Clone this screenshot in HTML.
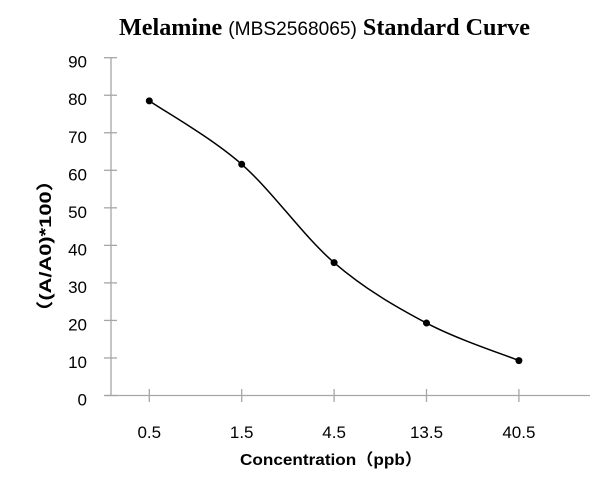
<!DOCTYPE html>
<html><head><meta charset="utf-8"><style>
html,body{margin:0;padding:0;background:#fff;}
svg{display:block;}
</style></head><body>
<svg id="chart" width="600" height="487" xmlns="http://www.w3.org/2000/svg">
<text x="324.5" y="35" text-anchor="middle" font-size="24" textLength="411" lengthAdjust="spacingAndGlyphs"><tspan font-family="Liberation Serif, serif" font-weight="bold">Melamine </tspan><tspan font-family="Liberation Sans, sans-serif" font-size="19">(MBS2568065)</tspan><tspan font-family="Liberation Serif, serif" font-weight="bold"> Standard Curve</tspan></text>
<text transform="translate(51,246) rotate(-90)" text-anchor="middle" font-family="Liberation Sans, 'Noto Sans CJK SC', sans-serif" font-weight="bold" font-size="17" textLength="153" lengthAdjust="spacingAndGlyphs">（(A/A0)*100）</text>
<text x="331" y="465" text-anchor="middle" font-family="Liberation Sans, 'Noto Sans CJK SC', sans-serif" font-weight="bold" font-size="16" textLength="182" lengthAdjust="spacingAndGlyphs">Concentration（ppb）</text>
<g id="axes"></g>
<g id="marks"></g>
</svg>
<script>
const categories = ["0.5","1.5","4.5","13.5","40.5"];
const values = [78.5, 61.6, 35.4, 19.3, 9.3];
const yTicks = [0,10,20,30,40,50,60,70,80,90];
const NS="http://www.w3.org/2000/svg";
const x0=111, x1=590, y0=395.5, yTop=57.7;
function yScale(v){return y0-(v/90)*(y0-yTop);}
function xScale(i){return 149.3+i*92.4;}
function mk(tag,attrs,parent){const e=document.createElementNS(NS,tag);for(const k in attrs)e.setAttribute(k,attrs[k]);parent.appendChild(e);return e;}
const axes=document.getElementById('axes'), marks=document.getElementById('marks');
const ya=mk('line',{x1:x0,y1:yTop,x2:x0,y2:y0,stroke:'#a6a6a6','stroke-width':1.3},axes);


const xa=mk('line',{x1:105,y1:y0,x2:x1,y2:y0,stroke:'#a6a6a6','stroke-width':1.3},axes);


yTicks.forEach(t=>{
  const y=yScale(t);
  const tl=mk('line',{x1:104,y1:y,x2:117,y2:y,stroke:'#a6a6a6','stroke-width':1.3},axes);
  
  
  const tx=mk('text',{x:87,y:y+10,'text-anchor':'end','font-family':'Liberation Sans, sans-serif','font-size':17,fill:'#000'},axes);
  tx.textContent=t;
  
  
});
categories.forEach((c,i)=>{
  const x=xScale(i);
  const tl=mk('line',{x1:x,y1:y0-6.5,x2:x,y2:y0+6.5,stroke:'#a6a6a6','stroke-width':1.3},axes);
  
  
  const tx=mk('text',{x:x,y:438,'text-anchor':'middle','font-family':'Liberation Sans, sans-serif','font-size':17,fill:'#000'},axes);
  tx.textContent=c;
  
  
});
const pts=values.map((v,i)=>[xScale(i),yScale(v)]);
let d='M'+pts[0][0]+','+pts[0][1];
for(let i=0;i<pts.length-1;i++){
  const p0=pts[i-1]||pts[i],p1=pts[i],p2=pts[i+1],p3=pts[i+2]||p2;
  const c1=[p1[0]+(p2[0]-p0[0])/6,p1[1]+(p2[1]-p0[1])/6];
  const c2=[p2[0]-(p3[0]-p1[0])/6,p2[1]-(p3[1]-p1[1])/6];
  d+=' C'+c1+' '+c2+' '+p2;
}
const line=mk('path',{d:d,fill:'none',stroke:'#000','stroke-width':1.5},marks);


pts.forEach(p=>{
  const c=mk('circle',{cx:p[0],cy:p[1],r:3.5,fill:'#000'},marks);
  
  
});
</script>
</body></html>
